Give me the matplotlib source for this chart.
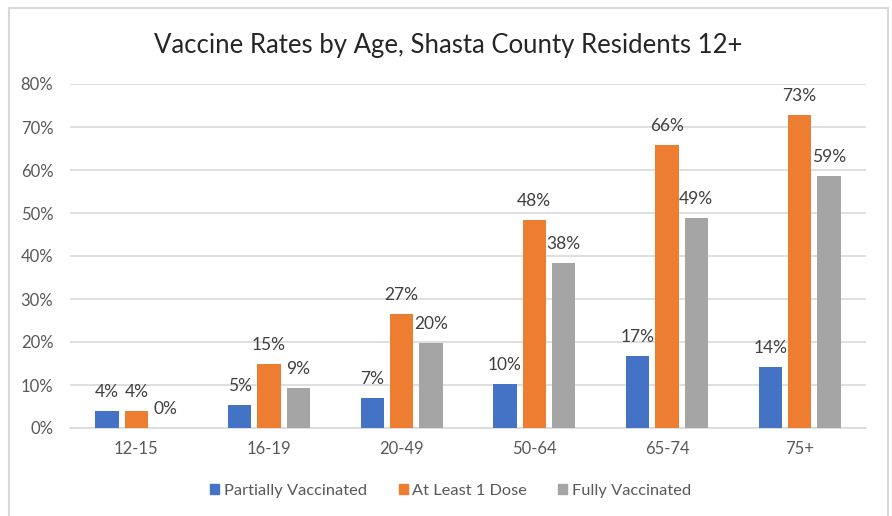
import matplotlib.pyplot as plt
import numpy as np
from matplotlib.lines import Line2D

plt.rcParams["font.family"] = ["Lato", "DejaVu Sans"]

age_groups = ["12-15", "16-19", "20-49", "50-64", "65-74", "75+"]
partially = [0.040, 0.054, 0.070, 0.103, 0.168, 0.142]
at_least_one = [0.040, 0.148, 0.266, 0.484, 0.657, 0.728]
fully = [0.0, 0.094, 0.198, 0.383, 0.489, 0.587]
series_names = ["Partially Vaccinated", "At Least 1 Dose", "Fully Vaccinated"]
colors = ["#4472C4", "#ED7D31", "#A5A5A5"]
yticks = [0, 0.1, 0.2, 0.3, 0.4, 0.5, 0.6, 0.7, 0.8]

fig = plt.figure(figsize=(8.92, 5.16), dpi=100)
ax = fig.add_axes([70 / 892, 1 - 428 / 516, 796 / 892, 344 / 516])

x = np.arange(len(age_groups))
step = 0.221
width = 0.175
for i, (vals, name, col) in enumerate(zip([partially, at_least_one, fully], series_names, colors)):
    pos = x + (i - 1) * step
    ax.bar(pos, vals, width=width, color=col, label=name, zorder=3)
    for px, v in zip(pos, vals):
        ax.annotate(f"{v * 100:.0f}%", (px, v), xytext=(0, 19), textcoords="offset pixels",
                    ha="center", va="center", fontsize=12.5, color="#404040")

ax.set_xlim(-0.5, len(age_groups) - 0.5)
ax.set_ylim(0, 0.8)
ax.set_yticks(yticks)
ax.set_yticklabels([f"{t * 100:.0f}%" for t in yticks])
ax.set_xticks(x)
ax.set_xticklabels(age_groups)
ax.tick_params(axis="both", length=0, labelsize=12, colors="#595959", pad=9)
ax.tick_params(axis="y", pad=12)
ax.grid(axis="y", color="#D9D9D9", linewidth=1.2, zorder=0)
for s in ["top", "right", "left"]:
    ax.spines[s].set_visible(False)
ax.spines["bottom"].set_color("#D9D9D9")
ax.spines["bottom"].set_linewidth(1.2)

fig.text(448 / 892, 1 - 45 / 516, "Vaccine Rates by Age, Shasta County Residents 12+",
         ha="center", va="center", fontsize=18.5, color="#262626")

handles = [plt.Rectangle((0, 0), 1, 1, color=c) for c in colors]
fig.legend(handles, series_names, loc="center", bbox_to_anchor=(451 / 892, 1 - 491 / 516),
           ncol=3, frameon=False, fontsize=11.8, handlelength=0.55, handleheight=0.55,
           handletextpad=0.3, columnspacing=1.9, labelcolor="#595959")

# chart border (left, top, right)
bx0, bx1, by0, by1 = 8.5 / 892, 888 / 892, 0.0, 1 - 8 / 516
for xs, ys in [([bx0, bx0], [by0, by1]), ([bx0, bx1], [by1, by1]), ([bx1, bx1], [by0, by1])]:
    fig.add_artist(Line2D(xs, ys, color="#D9D9D9", linewidth=1.5, transform=fig.transFigure))

fig.savefig("out.png", dpi=100, facecolor="white")
